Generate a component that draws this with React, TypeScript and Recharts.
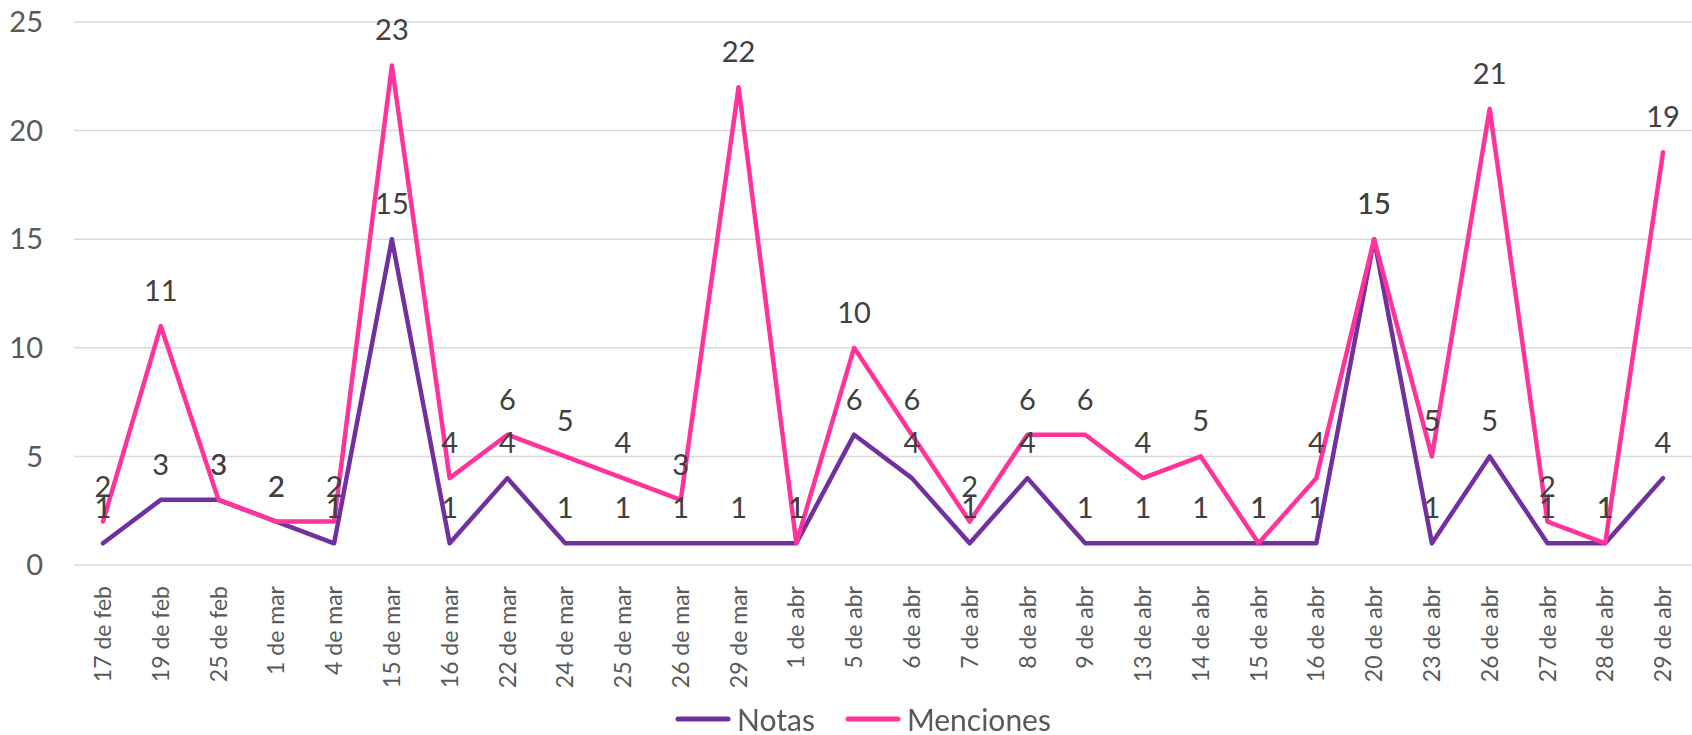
import { LineChart, Line, XAxis, YAxis, CartesianGrid, Legend, LabelList } from "recharts";

const FECHAS = [
  "17 de feb", "19 de feb", "25 de feb", "1 de mar", "4 de mar", "15 de mar", "16 de mar",
  "22 de mar", "24 de mar", "25 de mar", "26 de mar", "29 de mar", "1 de abr", "5 de abr",
  "6 de abr", "7 de abr", "8 de abr", "9 de abr", "13 de abr", "14 de abr", "15 de abr",
  "16 de abr", "20 de abr", "23 de abr", "26 de abr", "27 de abr", "28 de abr", "29 de abr",
];

const NOTAS = [1, 3, 3, 2, 1, 15, 1, 4, 1, 1, 1, 1, 1, 6, 4, 1, 4, 1, 1, 1, 1, 1, 15, 1, 5, 1, 1, 4];
const MENCIONES = [2, 11, 3, 2, 2, 23, 4, 6, 5, 4, 3, 22, 1, 10, 6, 2, 6, 6, 4, 5, 1, 4, 15, 5, 21, 2, 1, 19];

const Y_TICKS = [0, 5, 10, 15, 20, 25];

const COLORS = { notas: "#7030a0", menciones: "#ff3399" };

const data = FECHAS.map((fecha, i) => ({
  fecha,
  notas: NOTAS[i],
  menciones: MENCIONES[i],
}));

function DateTick({ x, y, payload }: { x?: number; y?: number; payload?: { value: string } }) {
  return (
    <text
      transform={`translate(${x},${(y ?? 0) + 13}) rotate(-90)`}
      textAnchor="end"
      dy="0.35em"
      fontSize={23}
      fill="#595959"
    >
      {payload?.value}
    </text>
  );
}

function SimpleLegend() {
  const items = [
    { name: "Notas", color: COLORS.notas },
    { name: "Menciones", color: COLORS.menciones },
  ];
  return (
    <div
      style={{
        display: "flex",
        justifyContent: "center",
        alignItems: "center",
        height: 32,
        paddingLeft: 34,
        gap: 30,
        fontSize: 30,
        lineHeight: "30px",
        color: "#595959",
      }}
    >
      {items.map((it) => (
        <div key={it.name} style={{ display: "flex", alignItems: "center", gap: 6 }}>
          <svg width={56} height={8}>
            <line x1={3} y1={4} x2={53} y2={4} stroke={it.color} strokeWidth={5} strokeLinecap="round" />
          </svg>
          <span>{it.name}</span>
        </div>
      ))}
    </div>
  );
}

export default function App() {
  return (
    <div style={{ position: "fixed", left: 0, top: 0, background: "#fff", fontFamily: "Lato, sans-serif" }}>
      <LineChart width={1692} height={735} data={data} margin={{ top: 22, right: 0, left: 0, bottom: 0 }}>
        <CartesianGrid vertical={false} stroke="#d9d9d9" strokeWidth={1.5} />
        <XAxis
          dataKey="fecha"
          interval={0}
          height={138}
          padding={{ left: 29, right: 29 }}
          axisLine={false}
          tickLine={false}
          tick={<DateTick />}
        />
        <YAxis
          domain={[0, 25]}
          ticks={Y_TICKS}
          width={74}
          axisLine={false}
          tickLine={false}
          tickSize={0}
          tickMargin={31}
          tick={{ fontSize: 29, fill: "#595959" }}
        />
        <Legend verticalAlign="bottom" height={32} content={<SimpleLegend />} />
        <Line
          dataKey="notas"
          name="Notas"
          stroke={COLORS.notas}
          strokeWidth={4.5}
          strokeLinejoin="round"
          strokeLinecap="round"
          dot={false}
          isAnimationActive={false}
        >
          <LabelList dataKey="notas" position="top" offset={25} fontSize={29} fill="#404040" />
        </Line>
        <Line
          dataKey="menciones"
          name="Menciones"
          stroke={COLORS.menciones}
          strokeWidth={4.5}
          strokeLinejoin="round"
          strokeLinecap="round"
          dot={false}
          isAnimationActive={false}
        >
          <LabelList dataKey="menciones" position="top" offset={25} fontSize={29} fill="#404040" />
        </Line>
      </LineChart>
    </div>
  );
}
